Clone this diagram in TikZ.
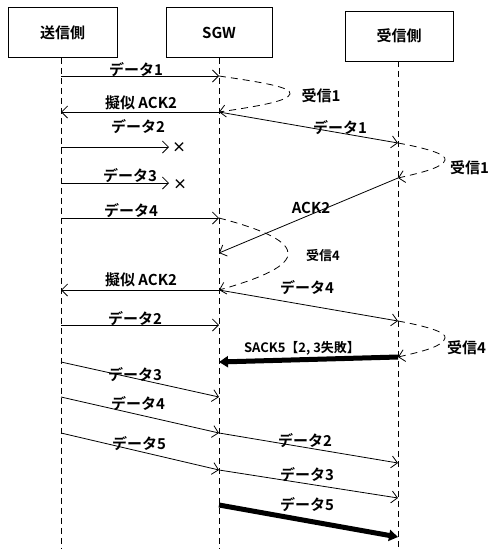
\documentclass[tikz,border=0pt]{standalone}
\usepackage{fontspec}
\setmainfont{Noto Sans CJK JP}[BoldFont={Noto Sans CJK JP Bold}]
\usetikzlibrary{arrows.meta}
\begin{document}
\begin{tikzpicture}[x=1pt,y=-1pt,
  box/.style={draw,line width=0.6pt,minimum height=50pt,inner sep=0pt,font=\fontsize{15}{15}\selectfont\bfseries},
  life/.style={line width=0.7pt,dash pattern=on 6pt off 4pt},
  msg/.style={line width=0.8pt,-{Straight Barb[length=6pt,width=12pt]}},
  recv/.style={line width=0.8pt,dash pattern=on 7pt off 5pt,-{Straight Barb[length=6pt,width=12pt]}},
  thick msg/.style={line width=5pt,-{Triangle[length=9pt,width=11pt]}},
  lbl/.style={inner sep=0pt,font=\fontsize{15}{15}\selectfont\bfseries},
  slbl/.style={inner sep=0pt,font=\fontsize{13}{13}\selectfont\bfseries},
  cross/.style={inner sep=0pt,font=\fontsize{14}{14}\selectfont\bfseries}
]
\useasboundingbox (0,0) rectangle (494,549);
% boxes
\node[box,minimum width=109pt] (snd) at (62.5,32.5) {送信側};
\node[box,minimum width=106pt] (sgw) at (219,32.5) {SGW};
\node[box,minimum width=108pt] (rcv) at (399,36) {受信側};
% lifeline ends
\coordinate (sB) at (61,549);
\coordinate (gB) at (219,549);
\coordinate (rB) at (398,549);
\draw[life] (snd.south -| sB) -- (sB);
\draw[life] (sgw.south -| gB) -- (gB);
\draw[life] (rcv.south -| rB) -- (rB);
% points on lifelines
\coordinate (s1) at (61,76);   \coordinate (g1) at (219,76);
\coordinate (g2) at (219,112); \coordinate (s2) at (61,112);
\coordinate (r1) at (398,143);
\coordinate (s3) at (61,147);  \coordinate (x1) at (169,147);
\coordinate (s4) at (61,183);  \coordinate (x2) at (169,183);
\coordinate (r2) at (398,178); \coordinate (g3) at (219,253);
\coordinate (s5) at (61,218);  \coordinate (g4) at (219,218);
\coordinate (g5) at (219,290); \coordinate (s6) at (61,290);
\coordinate (r3) at (398,321);
\coordinate (s7) at (61,325);  \coordinate (g6) at (219,325);
\coordinate (r4) at (398,357); \coordinate (g7) at (219,362);
\coordinate (s8) at (61,362);  \coordinate (g8) at (219,397);
\coordinate (s9) at (61,397);  \coordinate (g9) at (219,433);
\coordinate (s10) at (61,433); \coordinate (g10) at (219,470);
\coordinate (r5) at (398,463);
\coordinate (r6) at (398,498);
\coordinate (g11) at (219,505); \coordinate (r7) at (398,537);
% messages
\draw[msg] (s1) -- (g1);
\draw[recv] (g1) .. controls (260,82) and (292,87) .. (290,94) .. controls (288,101) and (260,106) .. (g2);
\draw[msg] (g2) -- (s2);
\draw[msg] (g2) -- (r1);
\draw[msg] (s3) -- (x1);
\node[cross] (c1) at (179,148) {×};
\draw[msg] (s4) -- (x2);
\node[cross] (c2) at (180,185) {×};
\draw[recv] (r1) .. controls (425,148) and (447,154) .. (445,160) .. controls (443,167) and (425,172) .. (r2);
\draw[msg] (r2) -- (g3);
\draw[msg] (s5) -- (g4);
\draw[recv] (g4) .. controls (265,230) and (290,242) .. (288,255) .. controls (286,268) and (255,280) .. (g5);
\draw[msg] (g5) -- (s6);
\draw[msg] (g5) -- (r3);
\draw[msg] (s7) -- (g6);
\draw[recv] (r3) .. controls (425,326) and (447,332) .. (445,338) .. controls (443,346) and (425,351) .. (r4);
\draw[thick msg] (r4) -- (g7);
\draw[msg] (s8) -- (g8);
\draw[msg] (s9) -- (g9);
\draw[msg] (s10) -- (g10);
\draw[msg] (g9) -- (r5);
\draw[msg] (g10) -- (r6);
\draw[thick msg] (g11) -- (r7);
% labels
\node[lbl] (t1) at (136,70) {データ1};
\node[lbl] (t2) at (321,96) {受信1};
\node[lbl] (t3) at (141,103) {擬似 ACK2};
\node[lbl] (t4) at (340,128) {データ1};
\node[lbl] (t5) at (138,127) {データ2};
\node[lbl] (t6) at (130,176) {データ3};
\node[lbl,anchor=west] (t7) at (450,168) {受信1};
\node[lbl] (t8) at (311,208) {ACK2};
\node[lbl] (t9) at (131,211) {データ4};
\node[slbl] (t10) at (323,256) {受信4};
\node[lbl] (t11) at (141,280) {擬似 ACK2};
\node[lbl] (t12) at (307,288) {データ4};
\node[lbl] (t13) at (135,319) {データ2};
\node[lbl,anchor=west] (t14) at (447,348) {受信4};
\node[lbl,font=\fontsize{13}{13}\selectfont\bfseries] (t15) at (302,348) {SACK5【2, 3失敗】};
\node[lbl] (t16) at (135,375) {データ3};
\node[lbl] (t17) at (138,404) {データ4};
\node[lbl] (t18) at (139,444) {データ5};
\node[lbl] (t19) at (305,441) {データ2};
\node[lbl] (t20) at (307,475) {データ3};
\node[lbl] (t21) at (307,505) {データ5};
\end{tikzpicture}
\end{document}
